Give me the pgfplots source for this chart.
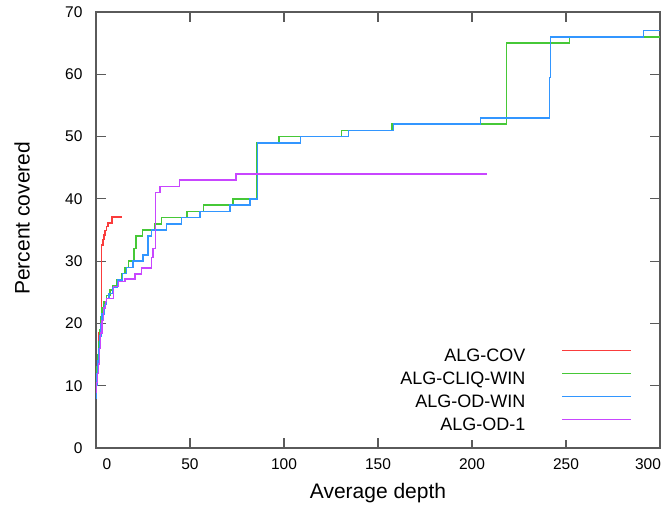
\documentclass[border=0pt]{standalone}
\usepackage{pgfplots}
\pgfplotsset{compat=1.18}
\usepackage{fontspec}
\setmainfont{Liberation Sans}
\definecolor{cred}{RGB}{250,60,60}
\definecolor{cgreen}{RGB}{70,200,55}
\definecolor{cblue}{RGB}{50,150,255}
\definecolor{cmag}{RGB}{200,70,255}
\definecolor{axgray}{RGB}{90,90,90}
\begin{document}
\begin{tikzpicture}
\begin{axis}[
  at={(0,0)}, anchor=south west,
  scale only axis, width=564pt, height=436pt,
  xmin=0, xmax=300, ymin=0, ymax=70,
  xtick={0,50,...,300}, ytick={0,10,...,70},
  xticklabels={\hspace*{22pt}0,50,100,150,200,250,300\hspace*{24pt}},
  tick align=inside, major tick length=10pt,
  axis line style={line width=1.3pt, color=axgray},
  every tick/.style={line width=1.1pt, color=axgray},
  ticklabel style={font=\fontsize{15.5}{18}\selectfont},
  /pgf/number format/assume math mode=true,
  xticklabel style={yshift=-7pt},
  yticklabel style={xshift=-10pt},
  xlabel={Average depth}, ylabel={Percent covered},
  label style={font=\fontsize{21}{25}\selectfont},
  xlabel style={at={(axis description cs:0.5,-0.103)}, anchor=center},
  ylabel style={at={(axis description cs:-0.131,0.527)}, anchor=center},
  legend plot pos=right,
  legend cell align=right,
  legend style={at={(axis cs:286.7,16.8)}, anchor=north east, draw=none, fill=white,
    font=\fontsize{18}{21}\selectfont,
    nodes={text height=13pt, text depth=4pt, inner sep=3pt},
    column sep=33pt, row sep=0pt},
  legend image code/.code={\draw[#1, line width=1.5pt] (0pt,6.5pt) -- (69pt,6.5pt);},
  every axis plot/.append style={const plot, line width=1.5pt, no markers},
]
\addplot[color=cred, line width=1.5pt] coordinates {
(0,10) (0.4,12) (0.8,14.6) (1.2,16.5) (1.7,18.5) (2.3,20.5) (3.0,32.6) (3.6,33.5)
(4.2,34.2) (4.8,34.9) (5.7,35.6) (6.5,36.1) (8.4,37.1) (13.7,37.1)};
\addlegendentry{ALG-COV}
\addplot[color=cgreen, line width=1.5pt] coordinates {
(0,9) (0.3,11) (0.6,13) (1.0,15) (1.5,17) (2.0,19) (2.6,21) (3.3,22.5) (4.2,23.5)
(5.7,24.5) (7.5,25.4) (9.0,26) (11.2,27) (13.7,28) (15.5,29) (17.2,30) (20.2,32)
(21.3,34) (24.8,35) (31.0,36) (34.9,37) (48.3,38) (57.2,39) (73.0,40) (85.6,49)
(97.3,50) (130.7,51) (157.5,52) (218.4,65) (251.8,66) (300,66)};
\addlegendentry{ALG-CLIQ-WIN}
\addplot[color=cblue, line width=1.5pt] coordinates {
(0,8) (0.3,10) (0.6,12) (1.0,14) (1.5,16) (2.0,18) (2.6,20) (3.3,21.5) (4.5,23)
(5.7,24) (7.0,24.8) (9.0,25.8) (11.5,27) (14,28) (16.3,29) (19.8,30) (25.1,31)
(27.6,34) (29.6,35) (37.6,36) (45.6,37) (55.3,38) (71.3,39) (81.9,40) (85.8,49)
(108.9,50) (134.2,51) (158.2,52) (204.6,53) (241.1,59.5) (241.8,66) (291.1,67) (300,67)};
\addlegendentry{ALG-OD-WIN}
\addplot[color=cmag, line width=1.5pt] coordinates {
(0,9) (0.3,10.5) (0.8,12) (1.3,13.5) (1.8,16) (2.5,18.5) (3.2,20.5) (4.0,22.5)
(5.0,23.5) (5.7,24) (9.2,25.9) (11.9,26.7) (15.4,27.1) (20.7,27.9) (24.3,28.9)
(29.6,30.6) (30.4,32) (31.7,41) (34.0,42) (44.3,43) (74.5,44) (208.1,44)};
\addlegendentry{ALG-OD-1}
\end{axis}
\pgfresetboundingbox
\useasboundingbox (-96pt,-73pt) rectangle (567pt,448pt);
\end{tikzpicture}
\end{document}
